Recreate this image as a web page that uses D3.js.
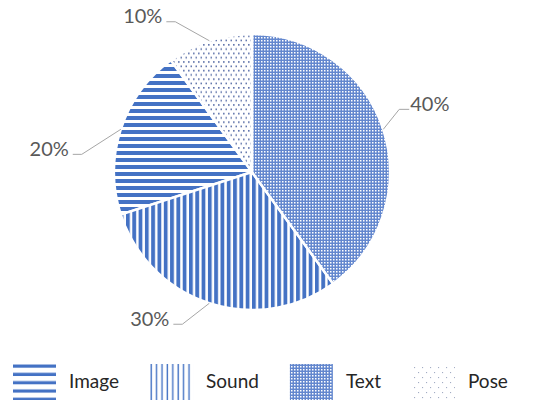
<!DOCTYPE html>
<html>
<head>
<meta charset="utf-8">
<script src="https://cdn.jsdelivr.net/npm/d3@7"></script>
<style>
  body { margin: 0; background: #fff; }
  svg { display: block; font-family: Lato, "Open Sans", sans-serif; }
</style>
</head>
<body>
<svg id="chart" width="536" height="400"></svg>
<script>
// Data
var categories = ["Image", "Sound", "Text", "Pose"];   // legend order
var shares = [20, 30, 40, 10];                          // percent
var pieOrder = ["Text", "Sound", "Image", "Pose"];      // clockwise from 12 o'clock

var width = 536, height = 400;
var blue = "#4472C4";
var cx = 252, cy = 172, radius = 138;

// leader elbow offsets from the slice edge (layout only)
var elbowShift = {
  Text:  [16, -20],
  Sound: [-27, 21],
  Image: [-39, 25],
  Pose:  [-34, -19]
};

var rows = categories.map(function(c, i) { return {name: c, value: shares[i]}; });

var svg = d3.select("#chart");
var defs = svg.append("defs");

// Fill patterns
function stripes(id, w, h, rx, ry, rw, rh, col) {
  var p = defs.append("pattern").attr("id", id)
    .attr("patternUnits", "userSpaceOnUse")
    .attr("width", w).attr("height", h);
  p.append("rect").attr("width", w).attr("height", h).attr("fill", "#fff");
  p.append("rect").attr("x", rx).attr("y", ry).attr("width", rw).attr("height", rh).attr("fill", col);
  return p;
}
function dots(id, w, h, pts, s, col) {
  var p = defs.append("pattern").attr("id", id)
    .attr("patternUnits", "userSpaceOnUse")
    .attr("width", w).attr("height", h);
  p.append("rect").attr("width", w).attr("height", h).attr("fill", "#fff");
  pts.forEach(function(q) {
    p.append("rect").attr("x", q[0]).attr("y", q[1]).attr("width", s).attr("height", s).attr("fill", col);
  });
  return p;
}
function checker(id) {
  var p = defs.append("pattern").attr("id", id)
    .attr("patternUnits", "userSpaceOnUse")
    .attr("width", 3).attr("height", 3);
  p.append("rect").attr("width", 3).attr("height", 3).attr("fill", "#6387ce");
  p.append("rect").attr("width", 1.5).attr("height", 1.5).attr("fill", "#fff");
  return p;
}

// pie fills
stripes("p-Image", 10, 7, 0, 0, 10, 4, blue);
stripes("p-Sound", 6.3, 10, 0, 0, 3.8, 10, blue);
checker("p-Text");
dots("p-Pose", 5, 8.6, [[1, 1], [3.5, 5.3]], 1.6, "#5a6fa8");

// legend fills
stripes("l-Image", 10, 8.3, 0, 0.5, 10, 3.2, blue).attr("y", 364);
var soundLegend = stripes("l-Sound", 5.4, 10, 0.5, 0, 1.4, 10, blue);
checker("l-Text");
dots("l-Pose", 8, 10, [[2, 2], [6, 7]], 1.1, "#a3adc4");

var fillScale = d3.scaleOrdinal().domain(categories).range(categories.map(function(c) { return "url(#p-" + c + ")"; }));
var legendFill = d3.scaleOrdinal().domain(categories).range(categories.map(function(c) { return "url(#l-" + c + ")"; }));

// Pie
var pie = d3.pie()
  .value(function(d) { return d.value; })
  .sort(function(a, b) { return pieOrder.indexOf(a.name) - pieOrder.indexOf(b.name); });
var arcs = pie(rows);
var arc = d3.arc().innerRadius(0).outerRadius(radius);

var g = svg.append("g").attr("transform", "translate(" + cx + "," + cy + ")");

g.selectAll("path.slice")
  .data(arcs)
  .enter()
  .append("path")
    .attr("class", "slice")
    .attr("d", arc)
    .attr("fill", function(d) { return fillScale(d.data.name); })
    .attr("stroke", "#fff")
    .attr("stroke-width", 2.5);

// Labels with leader lines
var fmt = d3.format(".0%");
arcs.forEach(function(d) {
  var mid = (d.startAngle + d.endAngle) / 2;
  var ax = radius * Math.sin(mid), ay = -radius * Math.cos(mid);
  var sh = elbowShift[d.data.name];
  var ex = ax + sh[0], ey = ay + sh[1];
  var right = Math.sin(mid) > 0;
  var hx = ex + (right ? 10 : -9);
  g.append("polyline")
    .attr("points", [[ax, ay], [ex, ey], [hx, ey]].map(function(p) { return p.join(","); }).join(" "))
    .attr("fill", "none")
    .attr("stroke", "#a6a6a6")
    .attr("stroke-width", 1);
  g.append("text")
    .attr("x", right ? hx + 1 : hx - 4)
    .attr("y", ey + 1.5)
    .attr("text-anchor", right ? "start" : "end")
    .attr("font-size", "20px")
    .attr("fill", "#595959")
    .text(fmt(d.data.value / 100));
});

// Legend
var legend = svg.append("g").attr("class", "legend");
var iconW = 43, iconH = 38, gap = 13, spacing = 31;
var lx = 13;
categories.forEach(function(c) {
  var item = legend.append("g");
  if (c === "Sound") soundLegend.attr("x", lx);
  item.append("rect")
    .attr("x", lx).attr("y", 364)
    .attr("width", iconW).attr("height", iconH)
    .attr("fill", legendFill(c));
  var t = item.append("text")
    .attr("x", lx + iconW + gap)
    .attr("y", 388)
    .attr("font-size", "19px")
    .attr("fill", "#262626")
    .text(c);
  lx += iconW + gap + t.node().getComputedTextLength() + spacing;
});
</script>
</body>
</html>
